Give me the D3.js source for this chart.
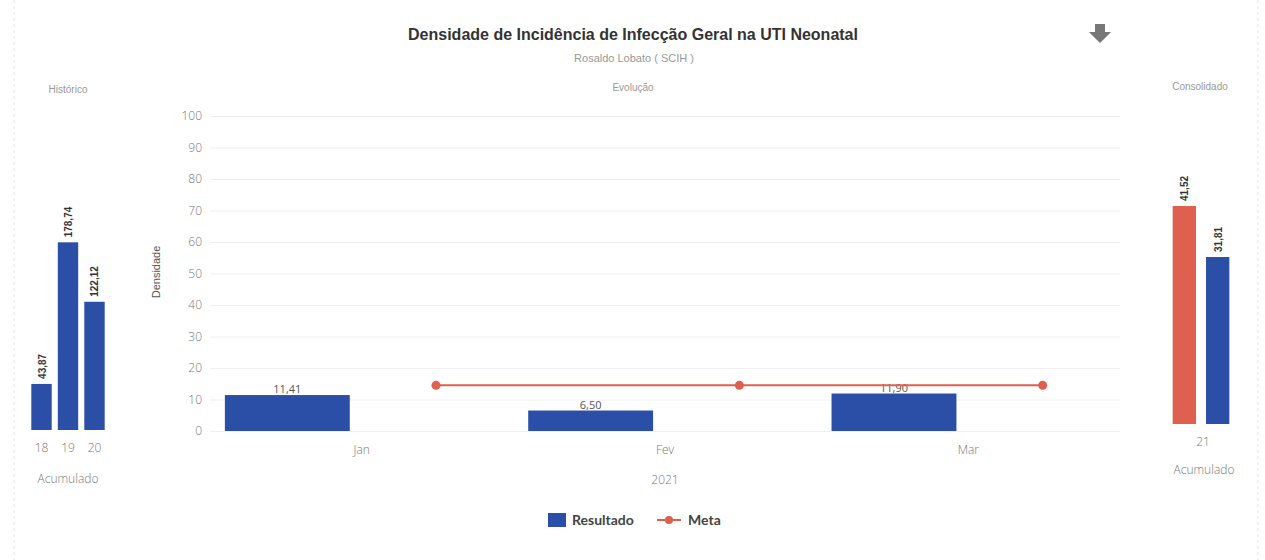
<!DOCTYPE html>
<meta charset="utf-8">
<script src="https://cdn.jsdelivr.net/npm/d3@7"></script>
<style>
body { margin: 0; background: #fff; }
text { font-family: "Liberation Sans", Arial, sans-serif; }
</style>
<body>
<script>
// dados
var meses = ["Jan", "Fev", "Mar"];
var resultado = [11.41, 6.50, 11.90];
var meta = [14.5, 14.5, 14.5];
var yTicks = [0, 10, 20, 30, 40, 50, 60, 70, 80, 90, 100];

var anosHist = ["18", "19", "20"];
var valoresHist = [43.87, 178.74, 122.12];

var consolidadoSeries = ["Meta", "Resultado"];
var consolidadoValores = [41.52, 31.81];
var anoConsolidado = "21";

var azul = "#2b4fa6", vermelho = "#e0604f";
var fmt = function(v) { return d3.format(".2f")(v).replace(".", ","); };

var svg = d3.select("body").append("svg")
    .attr("width", 1265)
    .attr("height", 560);

// moldura
svg.append("line").attr("x1", 14).attr("x2", 14).attr("y1", 0).attr("y2", 560)
  .attr("stroke", "#e6e6e6").attr("stroke-dasharray", "3,3");
svg.append("line").attr("x1", 1258).attr("x2", 1258).attr("y1", 0).attr("y2", 560)
  .attr("stroke", "#e6e6e6").attr("stroke-dasharray", "3,3");

// titulo
svg.append("text")
  .attr("x", 633).attr("y", 40)
  .attr("text-anchor", "middle")
  .style("font-size", "16px").style("font-weight", "bold")
  .attr("fill", "#333")
  .text("Densidade de Incidência de Infecção Geral na UTI Neonatal");
svg.append("text")
  .attr("x", 634).attr("y", 62)
  .attr("text-anchor", "middle")
  .style("font-size", "11px")
  .attr("fill", "#999")
  .text("Rosaldo Lobato ( SCIH )");

// icone download
svg.append("path")
  .attr("d", "M1095,24 L1105,24 L1105,32 L1111,32 L1100,43 L1089,32 L1095,32 Z")
  .attr("fill", "#777");

// ---------- grafico principal ----------
var x0 = d3.scaleBand().domain(meses).range([210, 1120]);
var x1 = d3.scaleBand().domain(["Resultado", "Meta"])
    .range([0, x0.bandwidth()]).paddingInner(0.16).paddingOuter(0.1);
var y = d3.scaleLinear().domain([0, 100]).range([431, 116]);

svg.append("text")
  .attr("x", 633).attr("y", 91)
  .attr("text-anchor", "middle")
  .style("font-size", "10px").attr("fill", "#999")
  .text("Evolução");

var yAxis = svg.append("g")
  .attr("transform", "translate(210,0)")
  .call(d3.axisLeft(y).tickValues(yTicks).tickSize(-910).tickPadding(8));
yAxis.select(".domain").remove();
yAxis.selectAll(".tick line").attr("stroke", "#f0f0f0");
yAxis.selectAll(".tick text")
  .attr("fill", "#777")
  .style("font-size", "12px")
  .style("font-family", "'Open Sans', sans-serif")
  .style("font-weight", "300");

svg.append("text")
  .attr("transform", "translate(160,272) rotate(-90)")
  .attr("text-anchor", "middle")
  .style("font-size", "11px").attr("fill", "#555")
  .text("Densidade");

var xAxis = svg.append("g")
  .attr("transform", "translate(0,431)")
  .call(d3.axisBottom(x0).tickSize(0).tickPadding(14));
xAxis.select(".domain").remove();
xAxis.selectAll(".tick text")
  .attr("fill", "#777")
  .style("font-size", "12px")
  .style("font-family", "'Open Sans', sans-serif")
  .style("font-weight", "300");

svg.append("text")
  .attr("x", x0("Fev") + x0.bandwidth() / 2).attr("y", 484)
  .attr("text-anchor", "middle")
  .style("font-size", "12px").style("font-family", "'Open Sans', sans-serif")
  .style("font-weight", "300").attr("fill", "#777")
  .text("2021");

var dadosMes = meses.map(function(m, i) { return {mes: m, r: resultado[i], m: meta[i]}; });

svg.selectAll(".barra")
  .data(dadosMes).enter().append("rect")
  .attr("class", "barra")
  .attr("x", function(d) { return x0(d.mes) + x1("Resultado"); })
  .attr("y", function(d) { return y(d.r); })
  .attr("width", x1.bandwidth())
  .attr("height", function(d) { return y(0) - y(d.r); })
  .attr("fill", azul);

svg.selectAll(".rotulo")
  .data(dadosMes).enter().append("text")
  .attr("class", "rotulo")
  .attr("x", function(d) { return x0(d.mes) + x1("Resultado") + x1.bandwidth() / 2; })
  .attr("y", function(d) { return y(d.r) - 2; })
  .attr("text-anchor", "middle")
  .style("font-size", "11px").style("font-family", "'Open Sans', sans-serif")
  .attr("fill", "#555")
  .text(function(d) { return fmt(d.r); });

var linha = d3.line()
  .x(function(d) { return x0(d.mes) + x1("Meta") + x1.bandwidth() / 2; })
  .y(function(d) { return y(d.m); });

svg.append("path")
  .datum(dadosMes)
  .attr("d", linha)
  .attr("fill", "none")
  .attr("stroke", vermelho)
  .attr("stroke-width", 2);

svg.selectAll(".ponto")
  .data(dadosMes).enter().append("circle")
  .attr("class", "ponto")
  .attr("cx", function(d) { return x0(d.mes) + x1("Meta") + x1.bandwidth() / 2; })
  .attr("cy", function(d) { return y(d.m); })
  .attr("r", 4.5)
  .attr("fill", vermelho);

// ---------- historico ----------
var xh = d3.scaleBand().domain(anosHist).range([28, 108]).paddingInner(0.23).paddingOuter(0.125);
var yh = d3.scaleLinear().domain([0, 300]).range([430, 115]);

svg.append("text")
  .attr("x", 68).attr("y", 93)
  .attr("text-anchor", "middle")
  .style("font-size", "10px").attr("fill", "#999")
  .text("Histórico");

var dadosHist = anosHist.map(function(a, i) { return {ano: a, v: valoresHist[i]}; });

svg.selectAll(".barraHist")
  .data(dadosHist).enter().append("rect")
  .attr("class", "barraHist")
  .attr("x", function(d) { return xh(d.ano); })
  .attr("y", function(d) { return yh(d.v); })
  .attr("width", xh.bandwidth())
  .attr("height", function(d) { return yh(0) - yh(d.v); })
  .attr("fill", azul);

svg.selectAll(".rotuloHist")
  .data(dadosHist).enter().append("text")
  .attr("class", "rotuloHist")
  .attr("transform", function(d) {
    return "translate(" + (xh(d.ano) + xh.bandwidth() / 2 + 4) + "," + (yh(d.v) - 5) + ") rotate(-90)";
  })
  .style("font-size", "10px").style("font-weight", "bold")
  .attr("fill", "#333")
  .text(function(d) { return fmt(d.v); });

var xhAxis = svg.append("g")
  .attr("transform", "translate(0,430)")
  .call(d3.axisBottom(xh).tickSize(0).tickPadding(13));
xhAxis.select(".domain").remove();
xhAxis.selectAll(".tick text")
  .attr("fill", "#777")
  .style("font-size", "12px").style("font-family", "'Open Sans', sans-serif")
  .style("font-weight", "300");

svg.append("text")
  .attr("x", 68).attr("y", 483)
  .attr("text-anchor", "middle")
  .style("font-size", "12px").style("font-family", "'Open Sans', sans-serif")
  .style("font-weight", "300").attr("fill", "#777")
  .text("Acumulado");

// ---------- consolidado ----------
var xc = d3.scaleBand().domain(consolidadoSeries).range([1166, 1236]).paddingInner(0.3).paddingOuter(0.2);
var yc = d3.scaleLinear().domain([0, 60]).range([424, 109]);
var corC = d3.scaleOrdinal().domain(consolidadoSeries).range([vermelho, azul]);

svg.append("text")
  .attr("x", 1200).attr("y", 90)
  .attr("text-anchor", "middle")
  .style("font-size", "10px").attr("fill", "#999")
  .text("Consolidado");

var dadosC = consolidadoSeries.map(function(s, i) { return {s: s, v: consolidadoValores[i]}; });

svg.selectAll(".barraC")
  .data(dadosC).enter().append("rect")
  .attr("class", "barraC")
  .attr("x", function(d) { return xc(d.s); })
  .attr("y", function(d) { return yc(d.v); })
  .attr("width", xc.bandwidth())
  .attr("height", function(d) { return yc(0) - yc(d.v); })
  .attr("fill", function(d) { return corC(d.s); });

svg.selectAll(".rotuloC")
  .data(dadosC).enter().append("text")
  .attr("class", "rotuloC")
  .attr("transform", function(d) {
    return "translate(" + (xc(d.s) + xc.bandwidth() / 2 + 4) + "," + (yc(d.v) - 5) + ") rotate(-90)";
  })
  .style("font-size", "10px").style("font-weight", "bold")
  .attr("fill", "#333")
  .text(function(d) { return fmt(d.v); });

svg.append("text")
  .attr("x", 1203).attr("y", 446)
  .attr("text-anchor", "middle")
  .style("font-size", "12px").style("font-family", "'Open Sans', sans-serif")
  .style("font-weight", "300").attr("fill", "#777")
  .text(anoConsolidado);
svg.append("text")
  .attr("x", 1204).attr("y", 474)
  .attr("text-anchor", "middle")
  .style("font-size", "12px").style("font-family", "'Open Sans', sans-serif")
  .style("font-weight", "300").attr("fill", "#777")
  .text("Acumulado");

// ---------- legenda ----------
var leg = svg.append("g").attr("transform", "translate(548,520)");
leg.append("rect").attr("x", 0).attr("y", -7).attr("width", 18).attr("height", 14).attr("fill", azul);
leg.append("text").attr("x", 24).attr("y", 5)
  .style("font-family", "Lato, sans-serif").style("font-size", "14px").style("font-weight", "bold")
  .attr("fill", "#444").text("Resultado");
leg.append("line").attr("x1", 109).attr("x2", 133).attr("y1", 0).attr("y2", 0)
  .attr("stroke", vermelho).attr("stroke-width", 2);
leg.append("circle").attr("cx", 121).attr("cy", 0).attr("r", 4).attr("fill", vermelho);
leg.append("text").attr("x", 140).attr("y", 5)
  .style("font-family", "Lato, sans-serif").style("font-size", "14px").style("font-weight", "bold")
  .attr("fill", "#444").text("Meta");
</script>
</body>
</html>
